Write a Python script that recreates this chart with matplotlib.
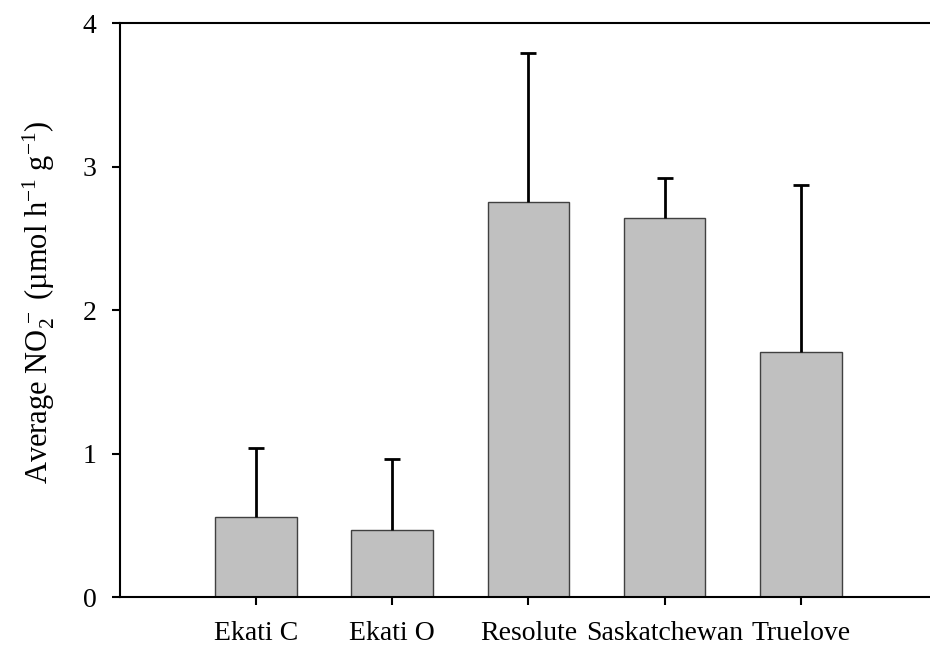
import numpy as np
import matplotlib.pyplot as plt

plt.rcParams['font.family'] = 'Liberation Serif'
plt.rcParams['mathtext.fontset'] = 'custom'
plt.rcParams['mathtext.rm'] = 'Liberation Serif'
plt.rcParams['mathtext.it'] = 'Liberation Serif:italic'

sites = ["Ekati C", "Ekati O", "Resolute", "Saskatchewan", "Truelove"]
mean_no2 = [0.56, 0.47, 2.75, 2.64, 1.71]
err_no2 = [0.48, 0.49, 1.04, 0.28, 1.16]

fig = plt.figure(figsize=(9.3, 6.48), dpi=100)
# axes runs a little past the right edge, like the cropped original
ax = fig.add_axes([0.129, 0.0787, 0.8785, 0.8858])

pos = np.arange(1, len(sites) + 1)
ax.bar(pos, mean_no2, width=0.6, color="#c0c0c0", edgecolor="#404040", linewidth=1.0, zorder=2)
_, caps, _ = ax.errorbar(pos, mean_no2, yerr=[np.zeros(len(err_no2)), err_no2], fmt="none",
                         ecolor="black", elinewidth=2, capsize=6, capthick=2, zorder=3)
# upper error only: hide the caps sitting on the bar tops
caps[0].set_visible(False)

ax.set_xlim(0, 6)
ax.set_ylim(0, 4)
ax.set_yticks([0, 1, 2, 3, 4])
ax.set_xticks(pos)
ax.set_xticklabels(sites)
ax.tick_params(direction="out", length=6, width=1.5, labelsize=20, pad=11)
ax.tick_params(axis="x", pad=11)
for s in ax.spines.values():
    s.set_linewidth(1.5)

ax.set_ylabel(r"Average NO$_2^{\,-}$ (µmol h$^{-1}$ g$^{-1}$)", fontsize=22)
ax.yaxis.set_label_coords(-0.077, 0.514)

fig.savefig("out.png", dpi=100)
